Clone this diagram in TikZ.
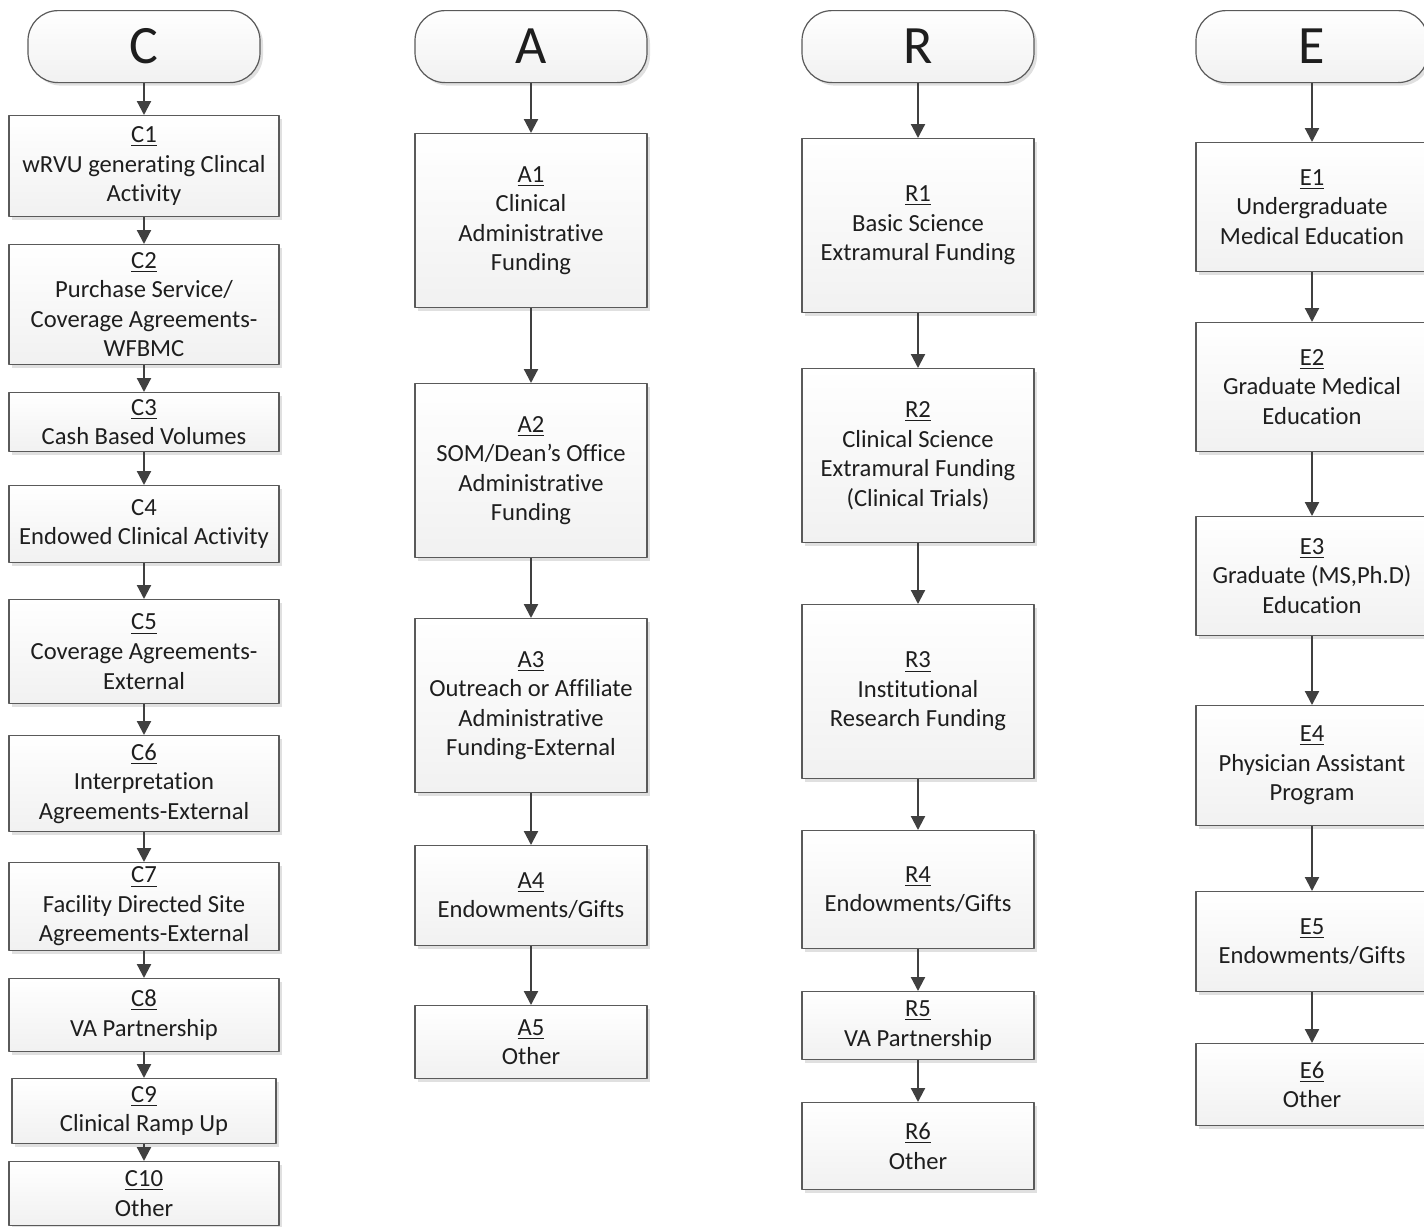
\documentclass[tikz,border=0pt]{standalone}
\usepackage{fontspec}
\setmainfont{Carlito}[Ligatures=NoCommon]
\usetikzlibrary{arrows.meta,shadows}
\definecolor{boxline}{HTML}{5A5A5A}
\definecolor{linkgray}{HTML}{404040}
\definecolor{txtgray}{HTML}{1E1E1E}
\begin{document}
\begin{tikzpicture}[x=0.5pt,y=-0.5pt,line join=round,
		box/.style={draw=boxline,line width=0.6pt,top color=white,bottom color=gray!11,
			minimum width=116pt,inner sep=2pt,align=center,anchor=north,text=txtgray,
			font=\fontsize{12.3}{14.75}\selectfont,
			drop shadow={shadow xshift=1.5pt,shadow yshift=-1.5pt,fill=gray!40,opacity=0.6}},
		head/.style={box,rounded corners=15pt,minimum height=36pt,font=\fontsize{27}{30}\selectfont},
		link/.style={draw=linkgray,line width=1.1pt,-{Triangle[width=7pt,length=7pt]}}]
	\useasboundingbox (0,0) rectangle (1424,1226); % page = reference size
	\clip (0,0) rectangle (1424,1226);
	% headers
	\node[head] (hc) at (144,10) {C};
	\node[head] (ha) at (531,10) {A};
	\node[head] (hr) at (918,10) {R};
	\node[head] (he) at (1312,10) {E};
	% C column
	\node[box,minimum width=135pt,minimum height=50.5pt] (c1) at (144,115) {\underline{C1}\\wRVU generating Clincal\\Activity};
	\node[box,minimum width=135pt,minimum height=60pt] (c2) at (144,244) {\underline{C2}\\Purchase Service/\\Coverage Agreements-\\WFBMC};
	\node[box,minimum width=135pt,minimum height=29.5pt] (c3) at (144,392) {\underline{C3}\\Cash Based Volumes};
	\node[box,minimum width=135pt,minimum height=38.5pt] (c4) at (144,485) {C4\\Endowed Clinical Activity};
	\node[box,minimum width=135pt,minimum height=52pt] (c5) at (144,599) {\underline{C5}\\Coverage Agreements-\\External};
	\node[box,minimum width=135pt,minimum height=48pt] (c6) at (144,735) {\underline{C6}\\Interpretation\\Agreements-External};
	\node[box,minimum width=135pt,minimum height=44pt] (c7) at (144,862) {\underline{C7}\\Facility Directed Site\\Agreements-External};
	\node[box,minimum width=135pt,minimum height=36.5pt] (c8) at (144,978) {\underline{C8}\\VA Partnership};
	\node[box,minimum width=132pt,minimum height=32.5pt] (c9) at (144,1078) {\underline{C9}\\Clinical Ramp Up};
	\node[box,minimum width=135pt,minimum height=32pt] (c10) at (144,1161) {\underline{C10}\\Other};
	% A column
	\node[box,minimum height=87pt] (a1) at (531,133) {\underline{A1}\\Clinical\\Administrative\\Funding};
	\node[box,minimum height=87pt] (a2) at (531,383) {\underline{A2}\\SOM/Dean’s Office\\Administrative\\Funding};
	\node[box,minimum height=87pt] (a3) at (531,618) {\underline{A3}\\Outreach or Affiliate\\Administrative\\Funding-External};
	\node[box,minimum height=50pt] (a4) at (531,845) {\underline{A4}\\Endowments/Gifts};
	\node[box,minimum height=36.5pt] (a5) at (531,1005) {\underline{A5}\\Other};
	% R column
	\node[box,minimum height=87pt] (r1) at (918,138) {\underline{R1}\\Basic Science\\Extramural Funding};
	\node[box,minimum height=87pt] (r2) at (918,368) {\underline{R2}\\Clinical Science\\Extramural Funding\\(Clinical Trials)};
	\node[box,minimum height=87pt] (r3) at (918,604) {\underline{R3}\\Institutional\\Research Funding};
	\node[box,minimum height=59pt] (r4) at (918,830) {\underline{R4}\\Endowments/Gifts};
	\node[box,minimum height=34pt] (r5) at (918,991) {\underline{R5}\\VA Partnership};
	\node[box,minimum height=43.5pt] (r6) at (918,1102) {\underline{R6}\\Other};
	% E column
	\node[box,minimum height=64.5pt] (e1) at (1312,142) {\underline{E1}\\Undergraduate\\Medical Education};
	\node[box,minimum height=64.5pt] (e2) at (1312,322) {\underline{E2}\\Graduate Medical\\Education};
	\node[box,minimum height=59.5pt] (e3) at (1312,516) {\underline{E3}\\Graduate (MS,Ph.D)\\Education};
	\node[box,minimum height=60pt] (e4) at (1312,705) {\underline{E4}\\Physician Assistant\\Program};
	\node[box,minimum height=50pt] (e5) at (1312,891) {\underline{E5}\\Endowments/Gifts};
	\node[box,minimum height=41pt] (e6) at (1312,1043) {\underline{E6}\\Other};
	% arrows
	\foreach \a/\b in {hc/c1,c1/c2,c2/c3,c3/c4,c4/c5,c5/c6,c6/c7,c7/c8,c8/c9,c9/c10,
			ha/a1,a1/a2,a2/a3,a3/a4,a4/a5,
			hr/r1,r1/r2,r2/r3,r3/r4,r4/r5,r5/r6,
			he/e1,e1/e2,e2/e3,e3/e4,e4/e5,e5/e6}
		\draw[link] (\a) -- (\b);
\end{tikzpicture}
\end{document}
